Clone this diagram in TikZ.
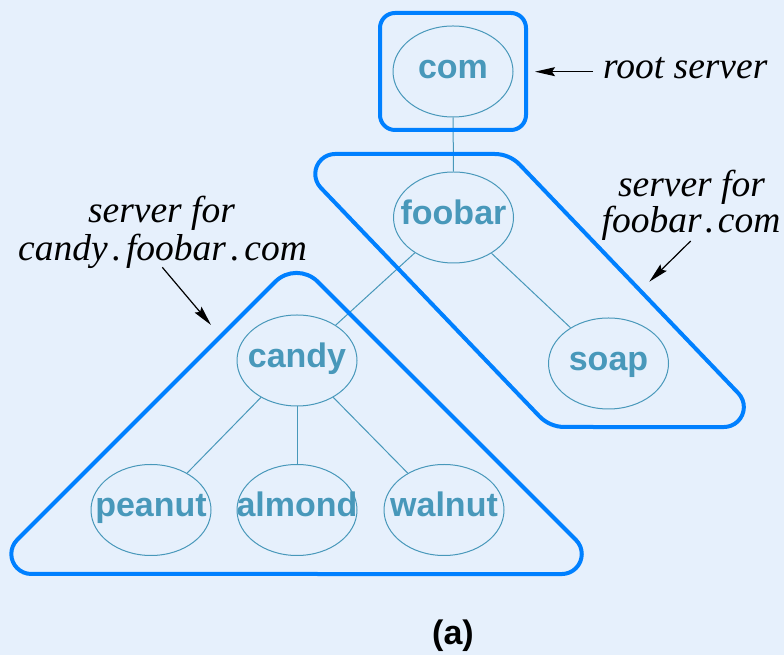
\documentclass[tikz,border=0pt]{standalone}
\usepackage{fontspec}
\setmainfont{Liberation Serif}
\newfontfamily\hvfont{Liberation Sans}
\usetikzlibrary{arrows.meta,shapes.geometric}
\definecolor{bgc}{RGB}{230,240,252}
\definecolor{framec}{RGB}{0,128,255}
\definecolor{tealc}{RGB}{72,152,186}
\begin{document}
\begin{tikzpicture}[x=1pt,y=1pt,
  tnode/.style={ellipse, draw=tealc, line width=1pt, minimum width=120pt, minimum height=91pt, inner sep=0pt},
  tname/.style={anchor=base, text=tealc, font=\hvfont\bfseries\fontsize{34}{40}\selectfont, inner sep=0pt},
  edge/.style={draw=tealc, line width=1pt},
  frm/.style={draw=framec, line width=4pt, line join=round},
  note/.style={anchor=base, font=\itshape\fontsize{37.5}{44}\selectfont, inner sep=0pt},
  ptr/.style={line width=1.2pt, -{Stealth[length=20pt,width=9pt,inset=3pt]}}
]
\useasboundingbox (0,0) rectangle (784,655);
\fill[bgc] (0,0) rectangle (784,655);

% tree nodes
\node[tnode] (com)    at (453,583.5) {};
\node[tnode] (foobar) at (453.5,437.5) {};
\node[tnode] (soap)   at (608.5,291.5) {};
\node[tnode] (candy)  at (297,294.5) {};
\node[tnode] (peanut) at (151,145) {};
\node[tnode] (almond) at (297,145) {};
\node[tnode] (walnut) at (444,145) {};

\node[tname] at ([yshift=-7pt]com.center) {com};
\node[tname] at ([yshift=-7pt]foobar.center) {foobar};
\node[tname] at ([yshift=-7pt]soap.center) {soap};
\node[tname] at ([yshift=-7pt]candy.center) {candy};
\node[tname] at ([yshift=-7pt]peanut.center) {peanut};
\node[tname] at ([yshift=-7pt]almond.center) {almond};
\node[tname] at ([yshift=-7pt]walnut.center) {walnut};

% connectors
\draw[edge] (com) -- (foobar);
\draw[edge] (foobar) -- (candy);
\draw[edge] (foobar) -- (soap);
\draw[edge] (candy) -- (peanut);
\draw[edge] (candy) -- (almond);
\draw[edge] (candy) -- (walnut);

% zone frames
\draw[frm, rounded corners=15pt] (380,525) rectangle (526,642);
\draw[frm] (335.2,501) -- (494.6,501)
  arc[start angle=90,end angle=43.75,radius=35]
  -- (738.3,261.8) arc[start angle=43.75,end angle=-90,radius=20]
  -- (564.6,228) arc[start angle=270,end angle=223.75,radius=35]
  -- (320.8,467.2) arc[start angle=223.75,end angle=90,radius=20] -- cycle;
\draw[frm] (297,81) -- (31.3,81)
  arc[start angle=270,end angle=135,radius=20]
  -- (275.3,373.3) arc[start angle=135,end angle=45,radius=30]
  -- (575.9,115.1) arc[start angle=45,end angle=-90,radius=20] -- cycle;

% annotations
\node[note, anchor=base west] (rootlbl) at (603,576) {root server};
\node[note] (fsrv) at (691.5,458.3) {server for};
\node[note] (fdom) at (691,422) {foobar\hspace{3.5pt}.\hspace{3.5pt}com};
\node[note] (csrv) at (161.5,432) {server for};
\node[note] (cdom) at (162.5,394.3) {candy\hspace{4.5pt}.\hspace{4.5pt}foobar\hspace{4.5pt}.\hspace{4.5pt}com};

\coordinate (rs) at (593,583.3);
\coordinate (rt) at (535,583.3);
\coordinate (fs) at (690.7,414);
\coordinate (ft) at (649.3,373.3);
\coordinate (cs) at (162.3,387.7);
\coordinate (ct) at (211,330);
\draw[ptr] (rs) -- (rt);
\draw[ptr] (fs) -- (ft);
\draw[ptr] (cs) -- (ct);

\node[anchor=base, font=\hvfont\bfseries\fontsize{34}{40}\selectfont, inner sep=0pt] (cap) at (453,10) {(a)};
\end{tikzpicture}
\end{document}
